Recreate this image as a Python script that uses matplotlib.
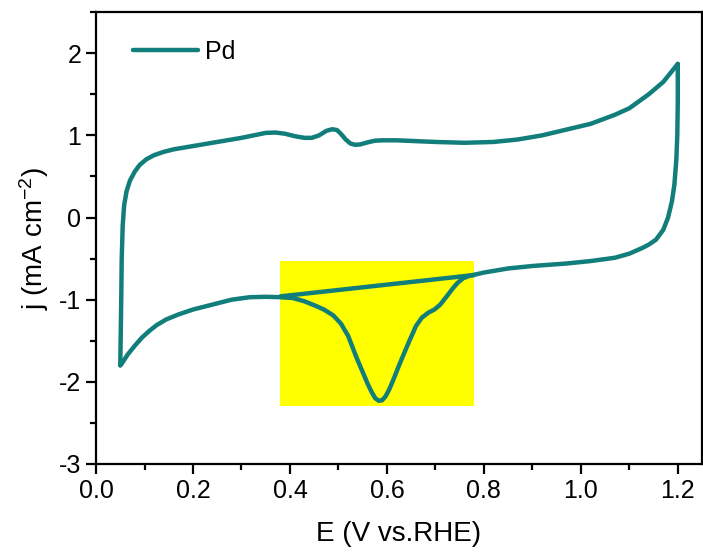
import matplotlib
matplotlib.use("Agg")
import matplotlib.pyplot as plt
from matplotlib.patches import Rectangle
from matplotlib.ticker import MultipleLocator

# Anodic (forward) sweep
E_anodic = [0.05, 0.051, 0.052, 0.053, 0.055, 0.058, 0.063, 0.07, 0.08, 0.09, 0.104, 0.12,
            0.14, 0.16, 0.2, 0.25, 0.3, 0.35, 0.37, 0.39, 0.41, 0.43, 0.445, 0.46, 0.475,
            0.487, 0.497, 0.505, 0.515, 0.525, 0.535, 0.545, 0.56, 0.575, 0.59, 0.62,
            0.66, 0.7, 0.76, 0.82, 0.87, 0.92, 0.97, 1.02, 1.07, 1.1, 1.14, 1.17, 1.2]
j_anodic = [-1.8, -1.4, -1.0, -0.5, -0.1, 0.15, 0.32, 0.45, 0.56, 0.64, 0.71, 0.76,
            0.8, 0.83, 0.87, 0.92, 0.97, 1.03, 1.035, 1.02, 0.99, 0.97, 0.97, 1.0, 1.055,
            1.075, 1.065, 1.02, 0.95, 0.9, 0.885, 0.89, 0.915, 0.935, 0.94, 0.94,
            0.93, 0.92, 0.91, 0.92, 0.95, 1.0, 1.07, 1.14, 1.25, 1.33, 1.5, 1.65, 1.87]

# Cathodic (reverse) sweep
E_cathodic = [1.2, 1.2, 1.199, 1.197, 1.193, 1.188, 1.18, 1.17, 1.155, 1.14, 1.127, 1.1,
              1.07, 1.02, 0.97, 0.9, 0.85, 0.8, 0.77, 0.757, 0.745, 0.735, 0.722, 0.71,
              0.698, 0.685, 0.672, 0.66, 0.645, 0.635, 0.625, 0.615, 0.605, 0.597, 0.59,
              0.583, 0.576, 0.569, 0.56, 0.55, 0.537, 0.52, 0.505, 0.489, 0.47, 0.455,
              0.43, 0.406, 0.38, 0.35, 0.317, 0.28, 0.24, 0.2, 0.17, 0.145, 0.125, 0.11,
              0.095, 0.08, 0.065, 0.053, 0.05]
j_cathodic = [1.87, 1.4, 1.0, 0.7, 0.4, 0.2, 0.0, -0.15, -0.27, -0.33, -0.37, -0.44,
              -0.49, -0.53, -0.56, -0.59, -0.62, -0.67, -0.71, -0.74, -0.8, -0.87, -0.97,
              -1.06, -1.12, -1.16, -1.22, -1.32, -1.52, -1.66, -1.8, -1.95, -2.09, -2.18,
              -2.225, -2.23, -2.2, -2.13, -2.02, -1.88, -1.7, -1.44, -1.29, -1.19, -1.12,
              -1.08, -1.02, -0.98, -0.97, -0.965, -0.97, -1.0, -1.06, -1.12, -1.18, -1.24,
              -1.31, -1.38, -1.46, -1.56, -1.67, -1.78, -1.8]

# Baseline under the reduction peak
E_base = [0.38, 0.78]
j_base = [-0.96, -0.70]

# Highlighted region (E range, j range)
hl_E = [0.38, 0.78]
hl_j = [-2.3, -0.53]

color = "#127e7b"
plt.rcParams["font.family"] = ["Liberation Sans", "DejaVu Sans"]
plt.rcParams["axes.unicode_minus"] = False
plt.rcParams["mathtext.fontset"] = "custom"
plt.rcParams["mathtext.rm"] = "Liberation Sans"
plt.rcParams["mathtext.default"] = "regular"

fig = plt.figure(figsize=(7.03, 5.53), dpi=100)
ax = fig.add_axes([0.1366, 0.161, 0.862, 0.817])

ax.add_patch(Rectangle((hl_E[0], hl_j[0]), hl_E[1] - hl_E[0], hl_j[1] - hl_j[0],
                       facecolor="#ffff00", edgecolor="none", zorder=1))

lw = 3.2
ax.plot(E_anodic, j_anodic, color=color, lw=lw, solid_joinstyle="round",
        solid_capstyle="round", zorder=3, label="Pd")
ax.plot(E_cathodic, j_cathodic, color=color, lw=lw, solid_joinstyle="round",
        solid_capstyle="round", zorder=3)
ax.plot(E_base, j_base, color=color, lw=lw, solid_capstyle="round", zorder=3)

ax.set_xlim(0, 1.25)
ax.set_ylim(-3, 2.5)
ax.xaxis.set_major_locator(MultipleLocator(0.2))
ax.xaxis.set_minor_locator(MultipleLocator(0.1))
ax.yaxis.set_major_locator(MultipleLocator(1))
ax.yaxis.set_minor_locator(MultipleLocator(0.5))
ax.xaxis.set_major_formatter(plt.FuncFormatter(lambda v, p: f"{v:.1f}"))
ax.yaxis.set_major_formatter(plt.FuncFormatter(lambda v, p: f"{v:.0f}"))

for s in ax.spines.values():
    s.set_linewidth(1.6)
ax.tick_params(which="major", direction="out", length=7, width=1.6, labelsize=18)
ax.tick_params(which="minor", direction="out", length=4, width=1.6)
ax.tick_params(top=False, right=False, which="both")

ax.set_xlabel("E (V vs.RHE)", fontsize=20, labelpad=13)
ax.set_ylabel("j (mA cm$^{-2}$)", fontsize=20, labelpad=6)

ax.legend(loc="center left", bbox_to_anchor=(0.061, 0.9115), frameon=False,
          fontsize=18, handlelength=2.6, handletextpad=0.3, borderpad=0,
          borderaxespad=0)

fig.savefig("out.png", dpi=100)
